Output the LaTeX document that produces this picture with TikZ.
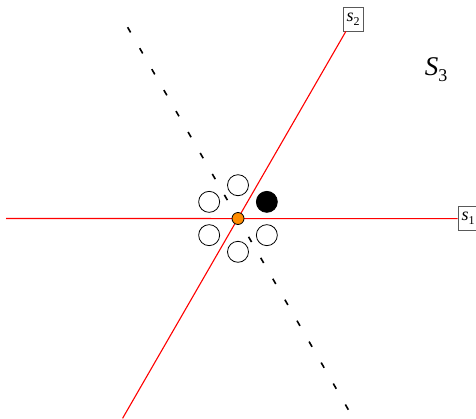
\documentclass[tikz,border=0pt]{standalone}
\usepackage{fontspec}
\setmainfont{Liberation Serif}
\usetikzlibrary{calc}
\definecolor{dotorange}{RGB}{255,140,0}
\newcommand{\symsub}[3]{{\itshape #1}\raisebox{-0.22em}{\fontsize{#3}{#3}\selectfont #2}}
\tikzset{
  redline/.style={draw=red, line width=1.1pt},
  dashline/.style={draw=black, line width=1.6pt, dash pattern=on 6pt off 18.2pt, dash phase=23pt},
  labelbox/.style={draw=black!65, fill=white, line width=0.8pt, inner sep=1pt, minimum width=20pt, minimum height=24pt, font=\fontsize{18}{18}\selectfont},
  ring/.style={circle, draw=black, fill=white, line width=0.8pt, minimum size=21pt, inner sep=0pt},
  blackdot/.style={circle, draw=black, fill=black, line width=0.8pt, minimum size=21pt, inner sep=0pt},
  centerdot/.style={circle, draw=black, fill=dotorange, line width=0.8pt, minimum size=12pt, inner sep=0pt},
  bigtext/.style={font=\fontsize{27}{28}\selectfont, inner sep=0pt}
}
\begin{document}
\begin{tikzpicture}[x=1pt,y=-1pt]
\useasboundingbox (0,0) rectangle (476,418);
\coordinate (c) at (238,218.5);
\coordinate (L) at (6,218.5);
\coordinate (B) at ($(c)+(-115.4,199.8)$);
\node[labelbox] (s1) at (468,218.6) {\symsub{s}{1}{12}};
\node[labelbox] (s2) at (353,19) {\symsub{s}{2}{12}};
\node[bigtext] (s3) at (436,70) {\symsub{S}{3}{18}};
\coordinate (d1) at ($(c)+(-111,-192.3)$);
\coordinate (d2) at ($(c)+(111,192.3)$);
\draw[dashline] (d1) -- (d2);
\draw[redline] (L) -- (s1);
\draw[redline] (B) -- (s2);
\node[ring] (r150) at ($(c)+(210:33.3)$) {};
\node[ring] (r90) at ($(c)+(270:33.3)$) {};
\node[blackdot] (r30) at ($(c)+(330:33.3)$) {};
\node[ring] (r210) at ($(c)+(150:33.3)$) {};
\node[ring] (r270) at ($(c)+(90:33.3)$) {};
\node[ring] (r330) at ($(c)+(30:33.3)$) {};
\node[centerdot] (o) at (c) {};
\end{tikzpicture}
\end{document}
